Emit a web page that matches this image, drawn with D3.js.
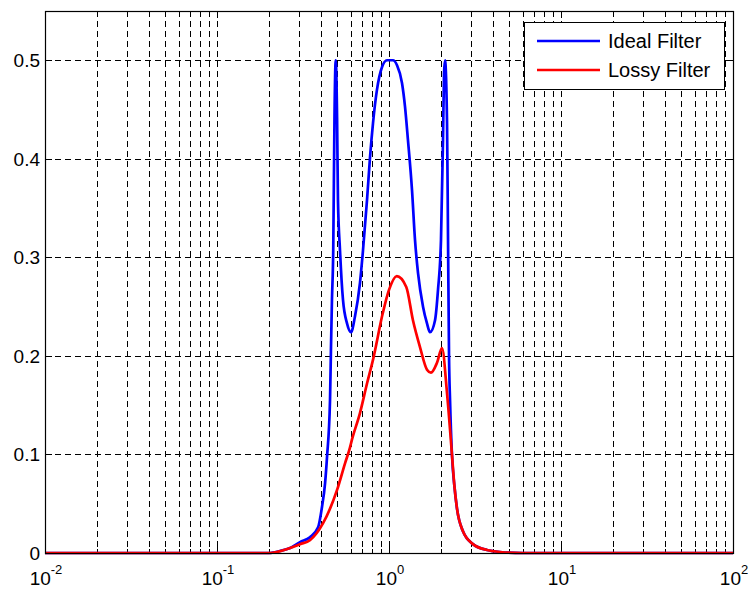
<!DOCTYPE html>
<html>
<head>
<meta charset="utf-8">
<script src="https://cdn.jsdelivr.net/npm/d3@7/dist/d3.min.js"></script>
<style>
  html, body { margin: 0; padding: 0; background: #fff; }
  svg { display: block; font-family: "Liberation Sans", Arial, sans-serif; }
</style>
</head>
<body>
<svg id="chart" width="748" height="591"></svg>
<script>
// ---- data ----
const seriesNames = ["Ideal Filter", "Lossy Filter"];
const seriesColors = ["#0000ff", "#ff0000"];

const idealFreq = [0.01, 0.1, 0.2, 0.232, 0.266, 0.304, 0.347, 0.387, 0.408, 0.425, 0.436, 0.454, 0.460, 0.466, 0.474, 0.482, 0.490,
  0.499, 0.505, 0.519, 0.540, 0.570, 0.601, 0.634, 0.678, 0.706, 0.745, 0.776, 0.807, 0.851, 0.910, 0.973, 1.055, 1.113,
  1.190, 1.239, 1.289, 1.361, 1.416, 1.475, 1.577, 1.663, 1.731, 1.851, 1.927, 2.006, 2.061, 2.089, 2.117,
  2.175, 2.204, 2.234, 2.264, 2.323, 2.400, 2.485, 2.692, 3.077, 3.714, 4.418, 6.0, 10, 100];
const idealGain = [0, 0, 0, 0.002, 0.005, 0.011, 0.016, 0.026, 0.047, 0.071, 0.097, 0.155, 0.209, 0.257, 0.307, 0.442, 0.5,
  0.442, 0.358, 0.307, 0.257, 0.233, 0.224, 0.240, 0.274, 0.307, 0.358, 0.402, 0.436, 0.470, 0.493, 0.5, 0.5, 0.495,
  0.477, 0.453, 0.419, 0.368, 0.318, 0.284, 0.250, 0.233, 0.224, 0.236, 0.267, 0.318, 0.419, 0.487, 0.5,
  0.436, 0.318, 0.199, 0.155, 0.100, 0.068, 0.045, 0.022, 0.009, 0.003, 0.001, 0, 0, 0];

const lossyFreq = [0.01, 0.1, 0.2, 0.266, 0.304, 0.347, 0.413, 0.499, 0.555, 0.593, 0.609, 0.678, 0.745, 0.807, 0.919, 1.0,
  1.11, 1.26, 1.379, 1.514, 1.663, 1.754, 1.901, 2.033, 2.175, 2.323, 2.400, 2.485, 2.692, 3.077, 3.714, 4.418, 6.0, 10, 100];
const lossyGain = [0, 0, 0, 0.005, 0.009, 0.013, 0.030, 0.064, 0.091, 0.107, 0.115, 0.142, 0.172, 0.196, 0.243, 0.267,
  0.281, 0.270, 0.236, 0.209, 0.186, 0.183, 0.193, 0.208, 0.162, 0.100, 0.068, 0.045, 0.022, 0.009, 0.003, 0.001, 0, 0, 0];

const yTicks = [0, 0.1, 0.2, 0.3, 0.4, 0.5];
const yTickLabels = ["0", "0.1", "0.2", "0.3", "0.4", "0.5"];
const xTicks = [0.01, 0.1, 1, 10, 100];
const xTickExponents = ["-2", "-1", "0", "1", "2"];

// ---- layout ----
const L = 45, T = 11, R = 733, B = 553;
const svg = d3.select("#chart");
const x = d3.scaleLog().domain([0.01, 100]).range([L, R]);
const y = d3.scaleLinear().domain([0, 0.55]).range([B, T]);

// minor ticks (2..9 per decade)
const minorX = [];
for (let e = -2; e < 2; e++) for (let m = 2; m <= 9; m++) minorX.push(m * Math.pow(10, e));

const gGrid = svg.append("g").attr("stroke", "#000").attr("stroke-width", 1)
  .attr("stroke-dasharray", "6,4").attr("fill", "none");
// vertical grid (major + minor)
minorX.concat(xTicks.slice(1, -1)).forEach(v => {
  const px = Math.round(x(v)) + 0.5;
  gGrid.append("line").attr("x1", px).attr("x2", px).attr("y1", T).attr("y2", B);
});
// horizontal grid
yTicks.slice(1).forEach(v => {
  const py = Math.round(y(v)) + 0.5;
  gGrid.append("line").attr("x1", L).attr("x2", R).attr("y1", py).attr("y2", py);
});

// ticks (inside, all sides)
const gTicks = svg.append("g").attr("stroke", "#000").attr("stroke-width", 1);
xTicks.forEach(v => {
  const px = Math.round(x(v)) + 0.5;
  gTicks.append("line").attr("x1", px).attr("x2", px).attr("y1", B).attr("y2", B - 7);
  gTicks.append("line").attr("x1", px).attr("x2", px).attr("y1", T).attr("y2", T + 7);
});
minorX.forEach(v => {
  const px = Math.round(x(v)) + 0.5;
  gTicks.append("line").attr("x1", px).attr("x2", px).attr("y1", B).attr("y2", B - 4);
  gTicks.append("line").attr("x1", px).attr("x2", px).attr("y1", T).attr("y2", T + 4);
});
yTicks.forEach(v => {
  const py = Math.round(y(v)) + 0.5;
  gTicks.append("line").attr("x1", L).attr("x2", L + 7).attr("y1", py).attr("y2", py);
  gTicks.append("line").attr("x1", R).attr("x2", R - 7).attr("y1", py).attr("y2", py);
});

// curves
const line = (fx, gy) => d3.line()
  .x((d, i) => x(fx[i])).y((d, i) => y(gy[i]))
  .curve(d3.curveMonotoneX)(gy);
svg.append("path").attr("d", line(idealFreq, idealGain))
  .attr("fill", "none").attr("stroke", seriesColors[0]).attr("stroke-width", 2.7).attr("stroke-linejoin", "round");
svg.append("path").attr("d", line(lossyFreq, lossyGain))
  .attr("fill", "none").attr("stroke", seriesColors[1]).attr("stroke-width", 2.7).attr("stroke-linejoin", "round");

// axes box
svg.append("rect").attr("x", L + 0.5).attr("y", T + 0.5).attr("width", R - L).attr("height", B - T)
  .attr("fill", "none").attr("stroke", "#000").attr("stroke-width", 1.2);

// y labels
yTicks.forEach((v, i) => {
  svg.append("text").attr("x", 40).attr("y", y(v)).attr("dy", "0.36em")
    .attr("text-anchor", "end").attr("font-size", 19).attr("fill", "#000").text(yTickLabels[i]);
});
// x labels
xTicks.forEach((v, i) => {
  const t = svg.append("text").attr("y", 585).attr("font-size", 19).attr("fill", "#000");
  t.append("tspan").text("10");
  t.append("tspan").attr("font-size", 13).attr("dy", -11).text(xTickExponents[i]);
  const w = t.node().getComputedTextLength();
  t.attr("x", x(v) - w / 2 + 1);
});

// legend
const lg = svg.append("g");
lg.append("rect").attr("x", 524.5).attr("y", 22.5).attr("width", 200).attr("height", 67)
  .attr("fill", "#fff").attr("stroke", "#000").attr("stroke-width", 1);
seriesNames.forEach((name, i) => {
  const cy = 41 + i * 29;
  lg.append("line").attr("x1", 537).attr("x2", 600).attr("y1", cy).attr("y2", cy)
    .attr("stroke", seriesColors[i]).attr("stroke-width", 2.7);
  lg.append("text").attr("x", 608).attr("y", cy + 7).attr("font-size", 20).attr("fill", "#000").text(name);
});
</script>
</body>
</html>
